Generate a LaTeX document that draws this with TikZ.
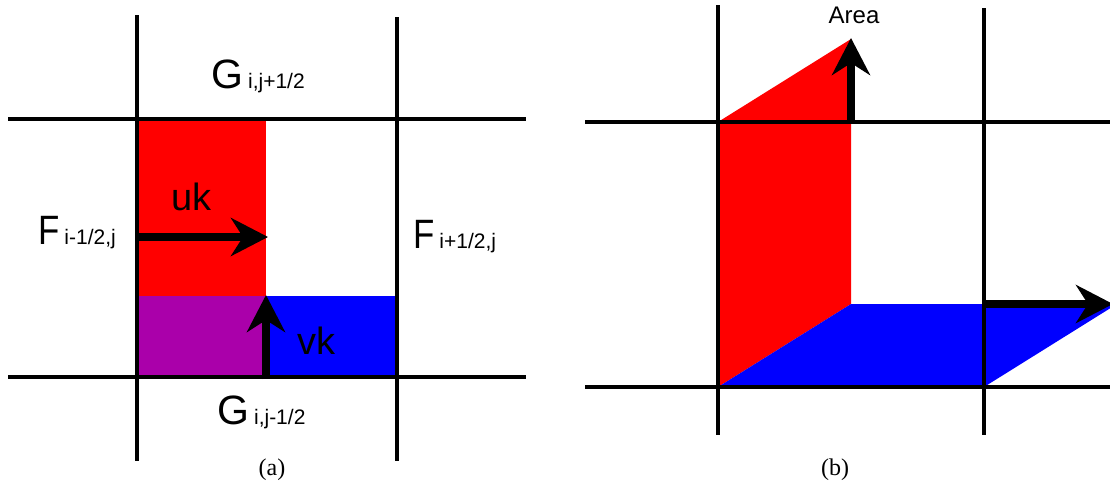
\documentclass[tikz,border=0pt]{standalone}
\usepackage{fontspec}
\setmainfont{Liberation Serif}
\setsansfont{Liberation Sans}
\usetikzlibrary{arrows.meta}
\definecolor{fred}{RGB}{255,0,0}
\definecolor{fblue}{RGB}{0,0,255}
\definecolor{fpurple}{RGB}{170,0,170}
\newcommand{\bigfnt}{\sffamily\fontsize{41}{41}\selectfont}
\newcommand{\subfnt}{\sffamily\fontsize{21}{21}\selectfont}
\newcommand{\velfnt}{\sffamily\fontsize{38}{38}\selectfont}
\newcommand{\narrowF}{\scalebox{0.85}[1]{F}}
\tikzset{
  gridline/.style={line width=3.4pt, black},
  vec/.style={line width=7.5pt, black, -{Stealth[length=37pt, width=38pt, inset=12pt]}},
  flux/.style={anchor=base west, inner sep=0pt, font=\bigfnt},
  vel/.style={anchor=base west, inner sep=0pt, font=\velfnt},
  captext/.style={anchor=base, inner sep=0pt, font=\rmfamily\fontsize{24}{24}\selectfont},
}
\begin{document}
\begin{tikzpicture}[x=1pt, y=-1pt]
\useasboundingbox (0,0) rectangle (1110,490);
\clip (0,0) rectangle (1110,490);
% ---------- panel (a) ----------
\fill[fred] (137,119) rectangle (266,296);
\fill[fpurple] (137,296) rectangle (266,377);
\fill[fblue] (266,296) rectangle (397,377);
\draw[gridline] (8,119) -- (526,119);
\draw[gridline] (8,377) -- (526,377);
\draw[gridline] (137,15) -- (137,461);
\draw[gridline] (397,17) -- (397,461);
\coordinate (ua) at (137,237);
\coordinate (ub) at (268,237);
\coordinate (va) at (266,379);
\coordinate (vb) at (266,295);
\draw[vec] (ua) -- (ub);
\draw[vec] (va) -- (vb);
\node[flux] (gtop) at (211,88) {G\hspace{5pt}{\subfnt i,j+1/2}};
\node[flux] (fleft) at (38,244) {\narrowF\hspace{5pt}{\subfnt i-1/2,j}};
\node[flux] (fright) at (413,248) {\narrowF\hspace{5pt}{\subfnt i+1/2,j}};
\node[flux] (gbot) at (217,424) {G\hspace{5pt}{\subfnt i,j-1/2}};
\node[vel] (uk) at (171,210) {uk};
\node[vel] (vk) at (297,354) {vk};
\node[captext] (capa) at (272,475) {(a)};
% ---------- panel (b) ----------
\fill[fred] (718,387) -- (718,122) -- (851,39) -- (851,304) -- cycle;
\fill[fblue] (718,387) -- (851,304) -- (1117,304) -- (984,387) -- cycle;
\draw[gridline] (585,122) -- (1110,122);
\draw[gridline] (585,387) -- (1110,387);
\draw[gridline] (718,5) -- (718,435);
\draw[gridline] (984,8) -- (984,435);
\coordinate (aa) at (851,124);
\coordinate (ab) at (851,38);
\coordinate (ra) at (984,304);
\coordinate (rb) at (1113,304);
\draw[vec] (aa) -- (ab);
\draw[vec] (ra) -- (rb);
\node[anchor=base, inner sep=0pt, font=\sffamily\fontsize{24}{24}\selectfont] (area) at (854,23) {Area};
\node[captext] (capb) at (835,475) {(b)};
\end{tikzpicture}
\end{document}
